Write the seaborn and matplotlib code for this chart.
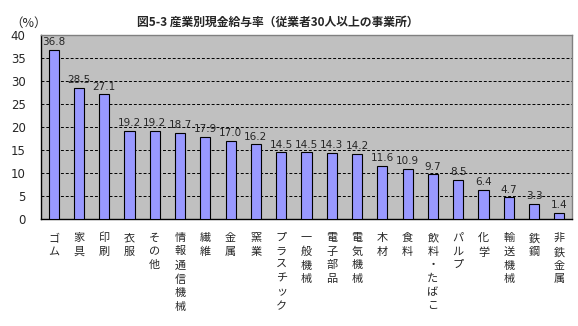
import matplotlib
matplotlib.use("Agg")
import matplotlib.pyplot as plt
import seaborn as sns
import pandas as pd

categories = ["ゴム", "家具", "印刷", "衣服", "その他", "情報通信機械", "繊維", "金属", "窯業",
              "プラスチック", "一般機械", "電子部品", "電気機械", "木材", "食料", "飲料・たばこ",
              "パルプ", "化学", "輸送機械", "鉄鋼", "非鉄金属"]
values = [36.8, 28.5, 27.1, 19.2, 19.2, 18.7, 17.9, 17.0, 16.2,
          14.5, 14.5, 14.3, 14.2, 11.6, 10.9, 9.7,
          8.5, 6.4, 4.7, 3.3, 1.4]
yticks = [0, 5, 10, 15, 20, 25, 30, 35, 40]
title = "図5-3 産業別現金給与率（従業者30人以上の事業所）"

sns.set_style("white")
plt.rcParams['font.family'] = ['Noto Sans CJK JP', 'DejaVu Sans']

df = pd.DataFrame({"cat": categories, "val": values})

fig = plt.figure(figsize=(5.78, 3.26), dpi=100)
ax = fig.add_axes([41/578, 1-219/326, (572-41)/578, (219-35)/326])
ax.set_facecolor("#C0C0C0")

sns.barplot(data=df, x="cat", y="val", ax=ax, color="#9999FF", saturation=1,
            width=0.4, edgecolor="black", linewidth=0.8, zorder=3)

ax.set_ylim(0, 40)
ax.set_yticks(yticks)
ax.set_yticklabels([str(t) for t in yticks], fontsize=8.5, family="DejaVu Sans")
ax.yaxis.grid(True, color="black", linestyle=(0, (3, 2)), linewidth=0.7, zorder=1)
ax.set_axisbelow(True)
ax.set_xlim(-0.5, len(categories) - 0.5)
ax.set_xlabel("")
ax.set_ylabel("")

for i, v in enumerate(values):
    ax.text(i, v + 0.6, f"{v:.1f}", ha="center", va="bottom", fontsize=7.5,
            family="DejaVu Sans", zorder=4)

# vertical category labels
ax.set_xticks(range(len(categories)))
ax.set_xticklabels(["\n".join(c) for c in categories], fontsize=8, linespacing=1.45,
                   va="top")
ax.tick_params(axis="x", length=0, pad=10)
ax.tick_params(axis="y", length=3, direction="out", pad=8)
# minor ticks between bars
ax.set_xticks([i + 0.5 for i in range(len(categories) - 1)], minor=True)
ax.tick_params(axis="x", which="minor", length=3, direction="in", color="black")

for s in ["left", "bottom"]:
    ax.spines[s].set_color("black")
    ax.spines[s].set_linewidth(1)
for s in ["top", "right"]:
    ax.spines[s].set_color("#808080")
    ax.spines[s].set_linewidth(1)

fig.text(278/578, 1-22/326, title, ha="center", va="center", fontsize=8.5, fontweight="bold")
fig.text(10/578, 1-23/326, "（%）", ha="left", va="center", fontsize=9)

fig.savefig("out.png", dpi=100)
